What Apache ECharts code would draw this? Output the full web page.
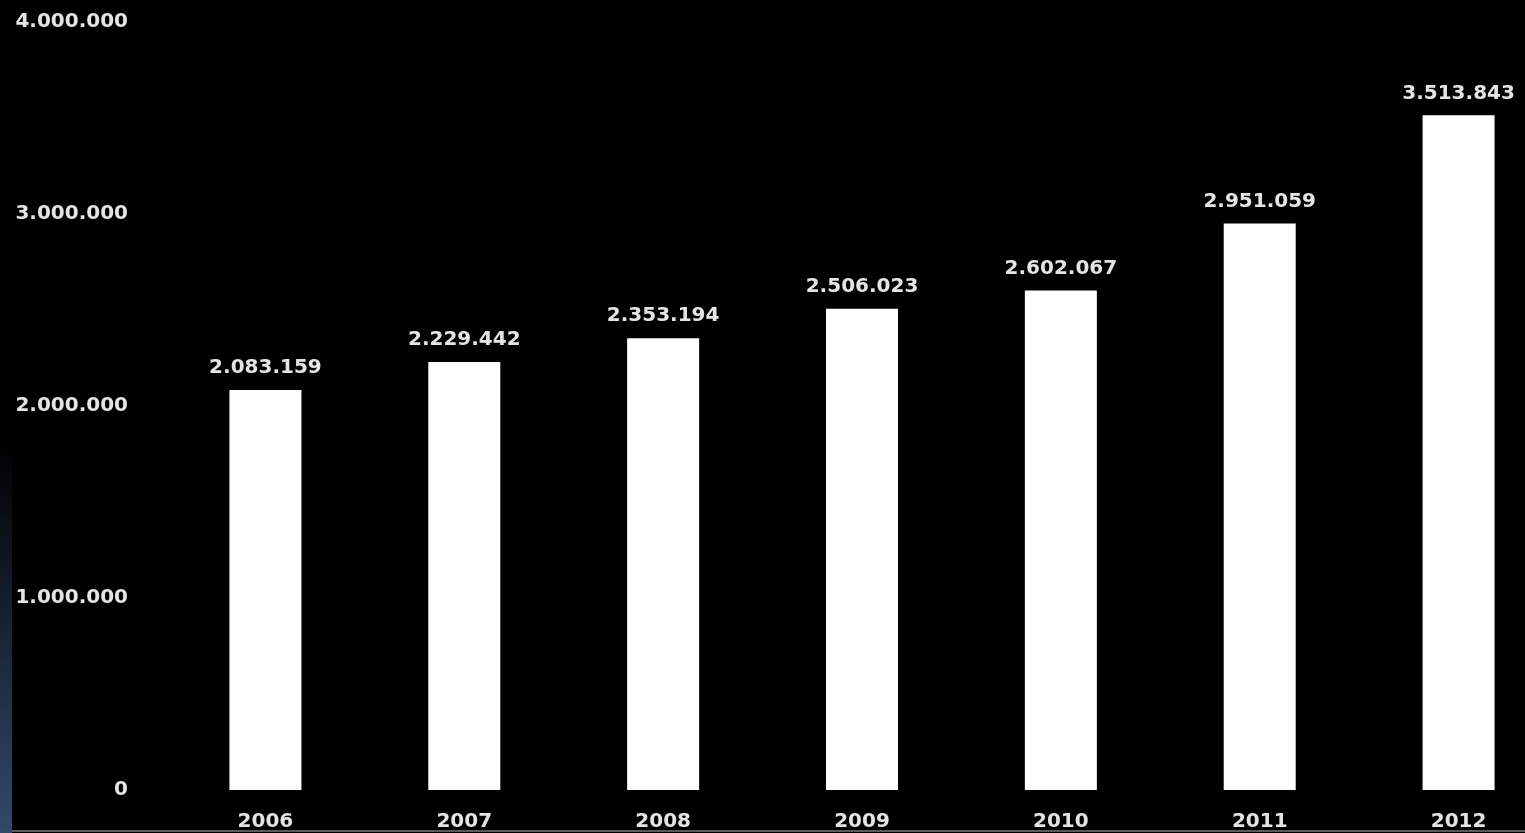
<!DOCTYPE html>
<html>
<head>
<meta charset="utf-8">
<script src="https://cdn.jsdelivr.net/npm/echarts@6/dist/echarts.min.js"></script>
<style>
html,body{margin:0;padding:0;background:#000;}
#chart{width:1525px;height:833px;}
</style>
</head>
<body>
<div id="chart"></div>
<script>
const categories = ['2006','2007','2008','2009','2010','2011','2012'];
const values = [2083159, 2229442, 2353194, 2506023, 2602067, 2951059, 3513843];
const yTicks = [0, 1000000, 2000000, 3000000, 4000000];

function fmt(v){
  return String(v).replace(/\B(?=(\d{3})+(?!\d))/g, '.');
}

const chart = echarts.init(document.getElementById('chart'));
const font = '"DejaVu Sans", sans-serif';
const txtColor = '#e4e4e4';
chart.setOption({
  backgroundColor: '#000',
  animation: false,
  graphic: [
    {
      type: 'rect',
      left: 0, top: 440,
      shape: {width: 12, height: 393},
      style: {
        fill: {
          type: 'linear', x: 0, y: 0, x2: 0, y2: 1,
          colorStops: [{offset: 0, color: '#000'}, {offset: 1, color: '#34496b'}]
        }
      },
      z: 0
    },
    {
      type: 'rect',
      left: 12, top: 830,
      shape: {width: 1513, height: 2},
      style: {fill: '#5a5a5a'},
      z: 0
    }
  ],
  grid: {left: 166, width: 1392, top: 22, height: 768, containLabel: false, outerBoundsMode: 'none'},
  xAxis: {
    type: 'category',
    data: categories,
    axisLine: {show: false},
    axisTick: {show: false},
    axisLabel: {
      color: txtColor, fontSize: 20, fontWeight: 'bold', fontFamily: font,
      margin: 22
    }
  },
  yAxis: {
    type: 'value',
    min: yTicks[0], max: yTicks[yTicks.length - 1], interval: 1000000,
    splitLine: {show: false},
    axisLine: {show: false},
    axisTick: {show: false},
    axisLabel: {
      color: txtColor, fontSize: 20, fontWeight: 'bold', fontFamily: font,
      margin: 38,
      formatter: v => fmt(v)
    }
  },
  series: [{
    type: 'bar',
    data: values,
    barWidth: 72,
    itemStyle: {color: '#ffffff'},
    label: {
      show: true, position: 'top', distance: 12,
      color: txtColor, fontSize: 20, fontWeight: 'bold', fontFamily: font,
      formatter: p => fmt(p.value)
    }
  }]
});
</script>
</body>
</html>
